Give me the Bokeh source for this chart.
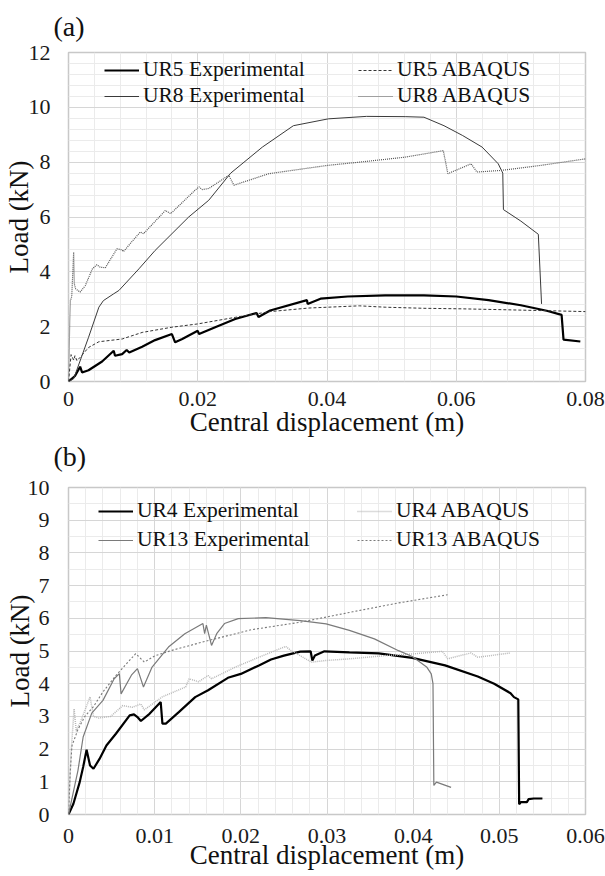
from bokeh.plotting import figure
from bokeh.layouts import column
from bokeh.models import Range1d, SingleIntervalTicker, CustomJSTickFormatter, Legend, LegendItem, Title
from bokeh.embed import file_html
from bokeh.resources import INLINE

FONT = "Liberation Serif, serif"

# ---------------- (a) data ----------------
ur5_exp_x = [0, 0.001, 0.0018, 0.0021, 0.0031, 0.0052, 0.0070, 0.0072, 0.0083, 0.0090, 0.0094, 0.0114,
             0.0134, 0.0160, 0.0165, 0.0176, 0.0200, 0.0202, 0.0227, 0.0258, 0.0291, 0.0294, 0.0312,
             0.0369, 0.0370, 0.0390, 0.0432, 0.0490, 0.0550, 0.0600, 0.0650, 0.0700, 0.0740, 0.0763,
             0.0766, 0.0792]
ur5_exp_y = [0, 0.2, 0.54, 0.33, 0.41, 0.73, 1.12, 0.94, 1.0, 1.15, 1.06, 1.27, 1.51, 1.73, 1.43, 1.55,
             1.85, 1.73, 1.98, 2.28, 2.5, 2.35, 2.59, 2.97, 2.83, 3.02, 3.1, 3.14, 3.14, 3.1, 2.97, 2.78,
             2.58, 2.43, 1.53, 1.46]

ur5_aba_x = [0, 0.0004, 0.0008, 0.001, 0.0013, 0.0018, 0.0031, 0.0047, 0.0083, 0.0114, 0.016, 0.020,
             0.0258, 0.0312, 0.0372, 0.045, 0.049, 0.055, 0.061, 0.067, 0.080]
ur5_aba_y = [0, 0.98, 0.78, 0.94, 0.76, 0.88, 1.24, 1.45, 1.55, 1.79, 1.98, 2.1, 2.34, 2.55, 2.68, 2.76,
             2.71, 2.67, 2.65, 2.62, 2.55]

ur8_exp_x = [0, 0.0008, 0.0031, 0.0047, 0.0054, 0.0070, 0.0078, 0.0109, 0.0134, 0.0186, 0.0217, 0.0251,
             0.0300, 0.0348, 0.0402, 0.0461, 0.0521, 0.0550, 0.0581, 0.0610, 0.0640, 0.0665, 0.0672,
             0.0673, 0.0700, 0.0727, 0.0732]
ur8_exp_y = [0, 0.1, 1.61, 2.71, 2.95, 3.2, 3.32, 4.11, 4.78, 6.0, 6.61, 7.6, 8.55, 9.33, 9.58, 9.67,
             9.66, 9.64, 9.33, 8.97, 8.55, 7.94, 7.6, 6.27, 5.85, 5.37, 2.83]

ur8_aba_x = [0, 0.0002, 0.0003, 0.0005, 0.0008, 0.0009, 0.0011, 0.0018, 0.0026, 0.0037, 0.0044, 0.0049,
             0.0057, 0.0075, 0.0083, 0.0085, 0.0111, 0.0116, 0.0150, 0.0158, 0.0196, 0.0202, 0.0207,
             0.0217, 0.0248, 0.0256, 0.0310, 0.0400, 0.0450, 0.0520, 0.0580, 0.0587, 0.0623, 0.0632,
             0.0670, 0.0730, 0.0800]
ur8_aba_y = [0, 2.2, 2.95, 3.1, 4.72, 3.56, 3.38, 3.26, 3.5, 4.11, 4.26, 4.17, 4.15, 4.84, 4.80, 4.74,
             5.45, 5.39, 6.24, 6.12, 6.98, 7.1, 7.0, 7.04, 7.52, 7.16, 7.58, 7.88, 8.0, 8.18, 8.42, 7.58,
             7.94, 7.64, 7.7, 7.88, 8.12]

# ---------------- (b) data ----------------
ur4_exp_x = [0, 0.00057, 0.0013, 0.0017, 0.0021, 0.0025, 0.0029, 0.0036, 0.0044, 0.0055, 0.0071, 0.0076,
             0.0080, 0.0084, 0.0094, 0.0107, 0.0109, 0.0113, 0.0128, 0.0147, 0.0162, 0.0185, 0.0200,
             0.0221, 0.0235, 0.0250, 0.0269, 0.0281, 0.0283, 0.0286, 0.0297, 0.0326, 0.0360, 0.0399,
             0.0437, 0.0475, 0.0494, 0.0513, 0.0517, 0.0522, 0.0523, 0.0525, 0.0532, 0.0534, 0.0540,
             0.0550]
ur4_exp_y = [0, 0.33, 0.99, 1.45, 1.98, 1.5, 1.4, 1.7, 2.11, 2.47, 3.03, 3.06, 2.98, 2.86, 3.08, 3.44,
             2.78, 2.78, 3.13, 3.59, 3.80, 4.18, 4.30, 4.56, 4.74, 4.86, 4.98, 4.99, 4.71, 4.86, 4.99,
             4.96, 4.93, 4.79, 4.56, 4.22, 4.0, 3.71, 3.59, 3.52, 0.31, 0.38, 0.38, 0.47, 0.49, 0.49]

ur4_aba_x = [0, 0.0003, 0.00065, 0.0009, 0.0015, 0.0025, 0.0029, 0.0035, 0.0049, 0.0063, 0.0074, 0.0084,
             0.0088, 0.0109, 0.0136, 0.0140, 0.0151, 0.0162, 0.0166, 0.0193, 0.0221, 0.0252, 0.0258,
             0.0282, 0.0299, 0.0326, 0.0368, 0.0399, 0.0434, 0.0440, 0.0467, 0.0475, 0.0513]
ur4_aba_y = [0, 1.9, 3.23, 2.55, 2.9, 3.6, 3.0, 2.95, 3.0, 3.33, 3.28, 3.38, 3.2, 3.6, 3.9, 4.15, 4.06,
             4.25, 4.15, 4.5, 4.81, 5.14, 5.02, 4.66, 4.71, 4.76, 4.86, 4.91, 4.99, 4.76, 4.94, 4.81, 4.94]

ur13_exp_x = [0, 0.0011, 0.0017, 0.0027, 0.0040, 0.0053, 0.0059, 0.0061, 0.0073, 0.0080, 0.0087, 0.0097,
              0.0116, 0.0135, 0.0156, 0.0158, 0.0160, 0.0166, 0.0172, 0.0181, 0.0197, 0.0229, 0.0269,
              0.0299, 0.0326, 0.0355, 0.0383, 0.0399, 0.0416, 0.0421, 0.0423, 0.0424, 0.0427, 0.0444]
ur13_exp_y = [0, 1.35, 2.37, 3.1, 3.49, 4.15, 4.31, 3.69, 4.26, 4.46, 3.9, 4.51, 5.12, 5.53, 5.84, 5.53,
              5.79, 5.17, 5.53, 5.84, 5.99, 6.02, 5.93, 5.83, 5.63, 5.37, 5.01, 4.83, 4.5, 4.3, 4.0,
              0.89, 0.99, 0.83]

ur13_aba_x = [0, 0.0002, 0.0004, 0.0011, 0.0019, 0.0029, 0.0040, 0.0055, 0.0078, 0.0088, 0.0100, 0.0120,
              0.0155, 0.0212, 0.0269, 0.0330, 0.0383, 0.0440]
ur13_aba_y = [0, 1.3, 2.1, 2.6, 3.0, 3.3, 3.75, 4.25, 4.92, 4.66, 4.85, 5.02, 5.27, 5.65, 5.88, 6.2,
              6.47, 6.72]

# axis settings (ranges / tick intervals)
a_x_max, a_x_step, a_y_max, a_y_step = 0.08, 0.02, 12, 2
b_x_max, b_x_step, b_y_max, b_y_step = 0.06, 0.01, 10, 1

fmt_code = "return (Math.round(tick*10000)/10000).toString();"


def style_fig(p, x_step, y_step, x_minor, y_minor, ylab_standoff, yaxis_standoff,
              xlab_standoff, xaxis_standoff):
    p.xaxis.ticker = SingleIntervalTicker(interval=x_step, num_minor_ticks=x_minor)
    p.yaxis.ticker = SingleIntervalTicker(interval=y_step, num_minor_ticks=y_minor)
    p.xaxis.formatter = CustomJSTickFormatter(code=fmt_code)
    p.yaxis.formatter = CustomJSTickFormatter(code=fmt_code)
    for ax in (p.xaxis, p.yaxis):
        ax.axis_line_color = None
        ax.major_tick_line_color = None
        ax.minor_tick_line_color = None
        ax.major_tick_out = 0
        ax.major_tick_in = 0
        ax.minor_tick_out = 0
        ax.major_label_text_font = FONT
        ax.major_label_text_font_size = "22px"
        ax.major_label_text_color = "#1a1a1a"
        ax.axis_label_text_font = FONT
        ax.axis_label_text_font_size = "27px"
        ax.axis_label_text_font_style = "normal"
        ax.axis_label_text_color = "#111111"
    p.xaxis.axis_label = "Central displacement (m)"
    p.yaxis.axis_label = "Load (kN)"
    p.yaxis.major_label_standoff = ylab_standoff
    p.yaxis.axis_label_standoff = yaxis_standoff
    p.xaxis.major_label_standoff = xlab_standoff
    p.xaxis.axis_label_standoff = xaxis_standoff
    p.xgrid.grid_line_color = "#d6d6d6"
    p.ygrid.grid_line_color = "#d6d6d6"
    p.xgrid.minor_grid_line_color = "#ebebeb"
    p.ygrid.minor_grid_line_color = "#ebebeb"
    p.outline_line_color = "#c8c8c8"
    p.outline_line_width = 1.5
    p.background_fill_color = "white"
    p.border_fill_color = "white"


def panel_title(text, offset, standoff, valign):
    return Title(text=text, align="left", offset=offset, standoff=standoff,
                 vertical_align=valign, text_font=FONT, text_font_size="28px",
                 text_font_style="normal", text_color="#111111")


def add_legends(p, items_left, items_right, xl, xr, yb, spacing):
    for items, x in ((items_left, xl), (items_right, xr)):
        leg = Legend(items=items, location=(x, yb))
        leg.label_text_font = FONT
        leg.label_text_font_size = "21.5px"
        leg.label_text_color = "#111111"
        leg.glyph_width = 35
        leg.glyph_height = 20
        leg.label_height = 20
        leg.label_standoff = 4
        leg.padding = 0
        leg.margin = 0
        leg.spacing = spacing
        leg.border_line_color = None
        leg.background_fill_alpha = 0
        p.add_layout(leg)


# ---------------- figure (a) ----------------
pa = figure(width=605, height=472, output_backend="svg", toolbar_location=None,
            x_range=Range1d(0, a_x_max), y_range=Range1d(0, a_y_max),
            min_border_left=68, min_border_right=20, min_border_top=52, min_border_bottom=91)
pa.title = panel_title("(a)", -15, 17, "top")
style_fig(pa, a_x_step, a_y_step, 5, 5, 18, -8, 10, -2)
# panel label of the second chart sits in the gap below chart (a)
pa.add_layout(panel_title("(b)", -15, -2, "bottom"), "below")

r_ur5e = pa.line(ur5_exp_x, ur5_exp_y, line_color="black", line_width=2.2)
r_ur5a = pa.line(ur5_aba_x, ur5_aba_y, line_color="#333333", line_width=1, line_dash="3 2")
r_ur8e = pa.line(ur8_exp_x, ur8_exp_y, line_color="#3a3a3a", line_width=1)
r_ur8a = pa.line(ur8_aba_x, ur8_aba_y, line_color="#555555", line_width=1.2, line_dash="1 1")

add_legends(pa,
            [LegendItem(label="UR5 Experimental", renderers=[r_ur5e]),
             LegendItem(label="UR8 Experimental", renderers=[r_ur8e])],
            [LegendItem(label="UR5 ABAQUS", renderers=[r_ur5a]),
             LegendItem(label="UR8 ABAQUS", renderers=[r_ur8a])],
            36, 290, 273, 1)

# ---------------- figure (b) ----------------
pb = figure(width=605, height=404, output_backend="svg", toolbar_location=None,
            x_range=Range1d(0, b_x_max), y_range=Range1d(0, b_y_max),
            min_border_left=64, min_border_right=17, min_border_top=15, min_border_bottom=62)
style_fig(pb, b_x_step, b_y_step, 5, 2, 19, -10, 14, -6)

r_ur4e = pb.line(ur4_exp_x, ur4_exp_y, line_color="black", line_width=2.2)
r_ur4a = pb.line(ur4_aba_x, ur4_aba_y, line_color="#b8b8b8", line_width=1.5, line_dash="1 1")
r_ur13e = pb.line(ur13_exp_x, ur13_exp_y, line_color="#7a7a7a", line_width=1.2)
r_ur13a = pb.line(ur13_aba_x, ur13_aba_y, line_color="#7a7a7a", line_width=1.1, line_dash="2 2")

add_legends(pb,
            [LegendItem(label="UR4 Experimental", renderers=[r_ur4e]),
             LegendItem(label="UR13 Experimental", renderers=[r_ur13e])],
            [LegendItem(label="UR4 ABAQUS", renderers=[r_ur4a]),
             LegendItem(label="UR13 ABAQUS", renderers=[r_ur13a])],
            30, 289, 262, 4)

layout = column(pa, pb, spacing=0)
open("out.html", "w").write(file_html(layout, INLINE))
